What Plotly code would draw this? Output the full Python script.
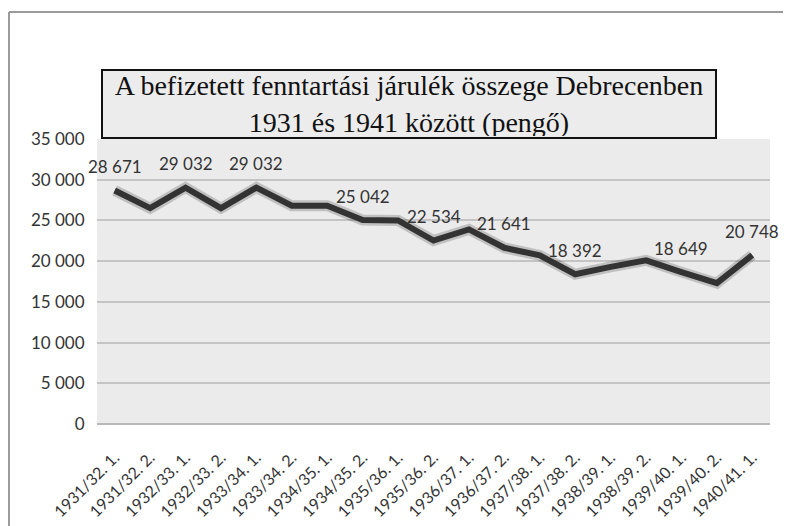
import plotly.graph_objects as go

categories = ["1931/32. 1.", "1931/32. 2.", "1932/33. 1.", "1932/33. 2.", "1933/34. 1.",
              "1933/34. 2.", "1934/35. 1.", "1934/35. 2.", "1935/36. 1.", "1935/36. 2.",
              "1936/37. 1.", "1936/37. 2.", "1937/38. 1.", "1937/38. 2.", "1938/39. 1.",
              "1938/39. 2.", "1939/40. 1.", "1939/40. 2.", "1940/41. 1."]
values = [28671, 26500, 29032, 26500, 29032,
          26800, 26800, 25042, 25000, 22534,
          23900, 21641, 20700, 18392, 19300,
          20100, 18649, 17300, 20748]
labeled = [True, False, True, False, True,
           False, False, True, False, True,
           False, True, False, True, False,
           False, True, False, True]
y_ticks = [0, 5000, 10000, 15000, 20000, 25000, 30000, 35000]
title_text = "A befizetett fenntartási járulék összege Debrecenben<br>1931 és 1941 között (pengő)"

def fmt(v):
    return f"{v:,}".replace(",", " ")

fig = go.Figure()
# soft shadow under the line
fig.add_trace(go.Scatter(x=categories, y=values, mode="lines",
                         line=dict(color="rgba(0,0,0,0.18)", width=11),
                         hoverinfo="skip", showlegend=False))
fig.add_trace(go.Scatter(x=categories, y=values, mode="lines",
                         line=dict(color="#333333", width=6),
                         showlegend=False))

annotations = []
for c, v, show in zip(categories, values, labeled):
    if show:
        annotations.append(dict(x=c, y=v, xref="x", yref="y", text=fmt(v),
                                showarrow=False, yshift=24,
                                font=dict(family="Lato, Open Sans, sans-serif", size=17, color="#333333")))

annotations.append(dict(x=0.4643, y=1.2456, xref="paper", yref="paper",
                        text=title_text, showarrow=False,
                        width=610, height=64, align="center",
                        bgcolor="#ececec", bordercolor="#111111", borderwidth=2,
                        font=dict(family="Liberation Serif, Times New Roman, serif", size=28, color="#111111")))

shapes = [
    dict(type="line", xref="paper", yref="paper", x0=-0.1308, x1=1.04, y0=1.4456, y1=1.4456,
         line=dict(color="#9a9a9a", width=2)),
    dict(type="line", xref="paper", yref="paper", x0=-0.1308, x1=-0.1308, y0=-0.37, y1=1.4456,
         line=dict(color="#9a9a9a", width=2)),
]

fig.update_layout(
    width=783, height=518,
    margin=dict(l=89, r=21, t=131, b=102, autoexpand=False),
    paper_bgcolor="white",
    plot_bgcolor="#ebebeb",
    separators=". ",
    annotations=annotations,
    shapes=shapes,
    showlegend=False,
)
fig.update_xaxes(type="category", tickangle=-45, automargin=False,
                 tickfont=dict(family="Lato, Open Sans, sans-serif", size=16, color="#333333"),
                 showgrid=False, showline=False, ticks="outside", ticklen=17, tickcolor="rgba(0,0,0,0)",
                 range=[-0.5, len(categories) - 0.5])
fig.update_yaxes(range=[0, 35000], tickvals=y_ticks, ticktext=[fmt(t) for t in y_ticks], automargin=False,
                 tickfont=dict(family="Lato, Open Sans, sans-serif", size=17, color="#333333"),
                 gridcolor="#c4c4c4", gridwidth=1.5, zeroline=True, zerolinecolor="#b8b8b8", zerolinewidth=2,
                 showline=False, ticks="outside", ticklen=8, tickcolor="rgba(0,0,0,0)")

fig.write_html("out.html")
